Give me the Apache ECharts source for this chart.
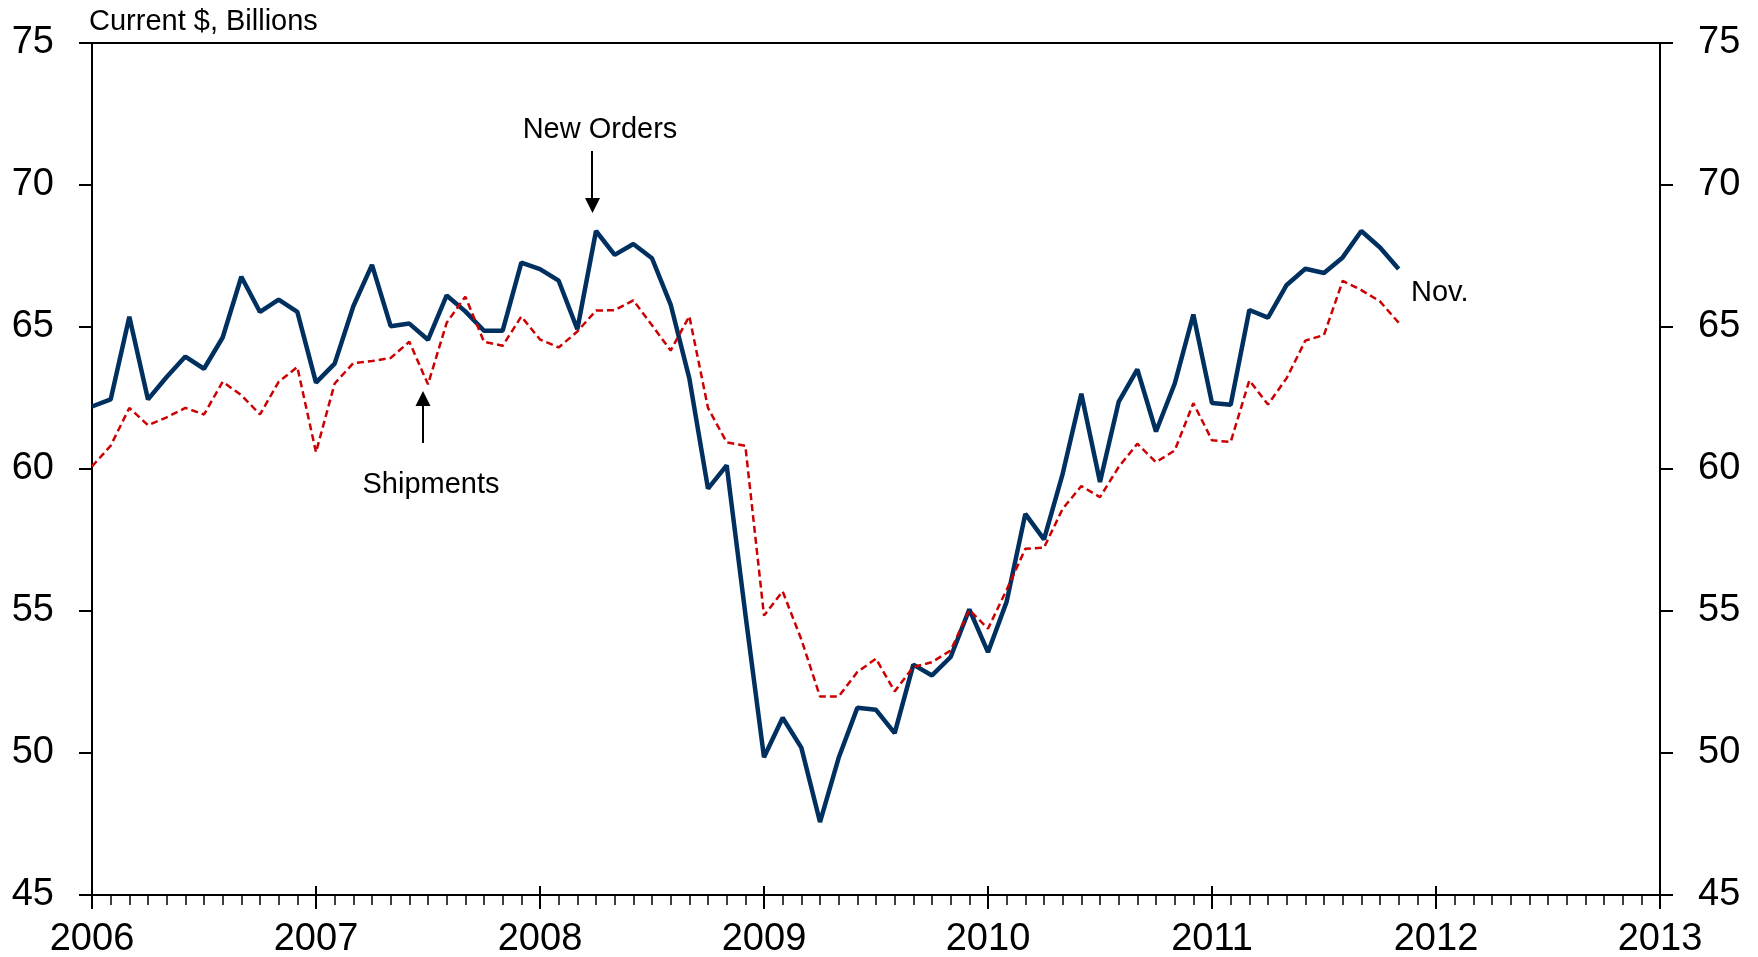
<!DOCTYPE html>
<html>
<head>
<meta charset="utf-8">
<script src="https://cdn.jsdelivr.net/npm/echarts@6/dist/echarts.min.js"></script>
<style>
  html, body { margin: 0; padding: 0; background: #fff; }
  #chart { width: 1758px; height: 957px; }
</style>
</head>
<body>
<div id="chart"></div>
<script>
// monthly, Jan 2006 .. Nov 2011
const startYear = 2006;
const yearTicks = [2006, 2007, 2008, 2009, 2010, 2011, 2012, 2013];

const newOrders = [
  62.2, 62.45, 65.36, 62.45, 63.24, 63.96, 63.53, 64.63, 66.77, 65.53, 65.96, 65.53,
  63.04, 63.71, 65.73, 67.19, 65.03, 65.12, 64.55, 66.11, 65.55, 64.87, 64.87, 67.27,
  67.04, 66.63, 64.92, 68.38, 67.54, 67.92, 67.42, 65.79, 63.19, 59.31, 60.13, 54.9,
  49.85, 51.24, 50.19, 47.57, 49.83, 51.59, 51.52, 50.7, 53.11, 52.73, 53.38, 55.06,
  53.55, 55.33, 58.42, 57.52, 59.83, 62.65, 59.54, 62.36, 63.51, 61.32, 63.0, 65.44,
  62.32, 62.26, 65.6, 65.33, 66.48, 67.05, 66.9, 67.45, 68.38, 67.8, 67.04
];

const shipments = [
  60.09, 60.82, 62.15, 61.54, 61.82, 62.15, 61.92, 63.07, 62.6, 61.92, 63.07, 63.59,
  60.59, 63.01, 63.73, 63.8, 63.91, 64.48, 62.98, 65.15, 66.07, 64.48, 64.34, 65.37,
  64.56, 64.28, 64.84, 65.58, 65.59, 65.94, 65.06, 64.17, 65.38, 62.15, 60.94, 60.82,
  54.84, 55.69, 54.0, 51.99, 51.99, 52.85, 53.32, 52.17, 53.03, 53.2, 53.61, 55.04,
  54.38, 55.75, 57.19, 57.23, 58.6, 59.4, 59.01, 60.07, 60.89, 60.24, 60.65, 62.32,
  61.01, 60.95, 63.12, 62.27, 63.2, 64.52, 64.72, 66.62, 66.3, 65.9, 65.15
];

const toPairs = arr => arr.map((v, i) => [startYear + i / 12, v]);

const FONT = 'Liberation Sans, Arial, sans-serif';

const myChart = echarts.init(document.getElementById('chart'));

const xBase = {
  type: 'value',
  min: yearTicks[0],
  max: yearTicks[yearTicks.length - 1],
  interval: 1,
  position: 'bottom',
  splitLine: { show: false }
};

const yBase = {
  type: 'value',
  min: 45,
  max: 75,
  interval: 5,
  splitLine: { show: false },
  axisLine: { show: true, lineStyle: { color: '#000', width: 2 } },
  axisTick: { show: true, inside: false, length: 13, lineStyle: { color: '#000', width: 2 } },
  axisLabel: { color: '#000', fontSize: 38, fontFamily: FONT, margin: 38 }
};

const option = {
  animation: false,
  backgroundColor: '#fff',
  grid: {
    left: 92, right: 98, top: 43, bottom: 62,
    show: true, borderColor: '#000', borderWidth: 2,
    outerBoundsMode: 'none'
  },
  xAxis: [
    Object.assign({}, xBase, {
      axisLine: { show: true, onZero: false, lineStyle: { color: '#000', width: 2 } },
      axisTick: { show: true, inside: false, length: 14, lineStyle: { color: '#000', width: 2 } },
      minorTick: { show: true, splitNumber: 12, length: 10, lineStyle: { color: '#000', width: 1.5 } },
      axisLabel: { color: '#000', fontSize: 38, fontFamily: FONT, margin: 26, formatter: v => String(v) }
    }),
    Object.assign({}, xBase, {
      axisLine: { show: false, onZero: false },
      axisTick: { show: true, inside: true, length: 9, lineStyle: { color: '#000', width: 2 } },
      axisLabel: { show: false }
    })
  ],
  yAxis: [
    Object.assign({}, yBase, { position: 'left' }),
    Object.assign({}, yBase, { position: 'right' })
  ],
  series: [
    {
      name: 'New Orders',
      type: 'line',
      data: toPairs(newOrders),
      showSymbol: false,
      lineStyle: { color: '#00305f', width: 4.5 },
      z: 2
    },
    {
      name: 'Shipments',
      type: 'line',
      data: toPairs(shipments),
      showSymbol: false,
      lineStyle: { color: '#cc0000', width: 2.5, type: [7, 4] },
      z: 3
    }
  ],
  graphic: [
    {
      type: 'text', left: 89, top: 7,
      style: { text: 'Current $, Billions', fill: '#000', font: '29px ' + FONT }
    },
    {
      type: 'text', x: 600, y: 130,
      style: { text: 'New Orders', fill: '#000', font: '29px ' + FONT, textAlign: 'center', textVerticalAlign: 'middle' }
    },
    {
      type: 'line', shape: { x1: 592, y1: 151, x2: 592, y2: 200 },
      style: { stroke: '#000', lineWidth: 2 }
    },
    {
      type: 'polygon', shape: { points: [[585, 198], [600, 198], [592.5, 213]] },
      style: { fill: '#000' }
    },
    {
      type: 'text', x: 431, y: 485,
      style: { text: 'Shipments', fill: '#000', font: '29px ' + FONT, textAlign: 'center', textVerticalAlign: 'middle' }
    },
    {
      type: 'line', shape: { x1: 423, y1: 443, x2: 423, y2: 403 },
      style: { stroke: '#000', lineWidth: 2 }
    },
    {
      type: 'polygon', shape: { points: [[415.5, 406], [430.5, 406], [423, 391]] },
      style: { fill: '#000' }
    },
    {
      type: 'text', x: 1411, y: 293,
      style: { text: 'Nov.', fill: '#000', font: '29px ' + FONT, textAlign: 'left', textVerticalAlign: 'middle' }
    }
  ]
};

myChart.setOption(option);
</script>
</body>
</html>
